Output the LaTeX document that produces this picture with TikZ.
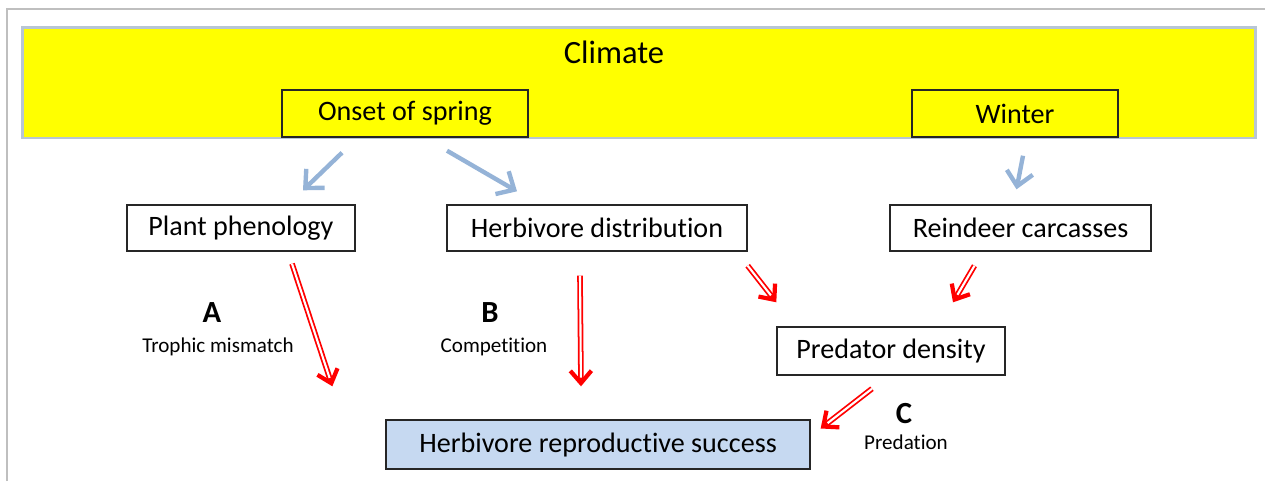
\documentclass[tikz,border=0pt]{standalone}
\usepackage{fontspec}
\setmainfont{Carlito}[Ligatures=NoCommon]
\usetikzlibrary{arrows.meta,calc}

\definecolor{climateyellow}{HTML}{FFFF00}
\definecolor{climateframe}{HTML}{B8C6D4}
\definecolor{arrowblue}{HTML}{95B3D7}
\definecolor{successblue}{HTML}{C6D9F1}
\definecolor{boxgray}{HTML}{262626}

\begin{document}
\begin{tikzpicture}[x=0.02cm, y=-0.02cm,
  box/.style={draw=boxgray, line width=0.8pt, inner sep=0pt, minimum height=0.92cm, font=\fontsize{16}{19}\selectfont},
  bluearr/.style={arrowblue, line width=2.5pt, -{Straight Barb[length=8pt,width=15pt]}},
  redarr/.style={red, line width=3.2pt, -{Straight Barb[length=7pt,width=12pt,line width=2.4pt]},
    postaction={draw=white, line width=1.2pt, -, shorten >=5pt}},
  letter/.style={font=\fontsize{17.5}{20}\selectfont\bfseries},
  effect/.style={font=\fontsize{12}{14}\selectfont}]

\useasboundingbox (0,0) rectangle (1265,481);
\draw[gray!50, line width=0.6pt] (7,481) -- (7,9) -- (1265,9);

%climate band
\node[draw=climateframe, fill=climateyellow, line width=1.7pt, minimum width=24.68cm, minimum height=2.22cm] (climate) at (639,82.5) {};
\node[font=\fontsize{18.5}{22}\selectfont] (climatetxt) at (614,52) {Climate};
\node[box, fill=climateyellow, minimum width=4.92cm, minimum height=0.94cm] (onset) at (405,113.5) {Onset of spring};
\node[box, fill=climateyellow, minimum width=4.12cm, minimum height=0.94cm] (winter) at (1015,113.5) {Winter};

%second row
\node[box, minimum width=4.56cm] (plant) at (241,228) {Plant phenology};
\node[box, minimum width=6.0cm] (herbdist) at (597,228) {Herbivore distribution};
\node[box, minimum width=5.22cm] (reindeer) at (1020.5,228) {Reindeer carcasses};

\node[box, minimum width=4.56cm, minimum height=0.96cm] (pred) at (891,351) {Predator density};
\node[box, fill=successblue, minimum width=8.48cm, minimum height=0.98cm] (success) at (598,444.5) {Herbivore reproductive success};

%climate effects
\draw[bluearr] ($(onset.south)+(-63,15)$) -- ($(plant.north)+(62,-14)$);
\draw[bluearr] ($(onset.south)+(42,13)$) -- ($(herbdist.north)+(-80,-13)$);
\draw[bluearr] ($(winter.south)+(8,18)$) -- ($(reindeer.north)+(-4,-15)$);

%effects on reproduction
\draw[redarr] ($(plant.south)+(51,12)$) -- ($(success.north west)+(-53,-33)$);
\draw[redarr] ($(herbdist.south)+(-17,24)$) -- ($(success.north)+(-17,-33)$);
\draw[redarr] ($(herbdist.south east)+(0,14)$) -- ($(pred.north west)+(0,-24)$);
\draw[redarr] ($(reindeer.south)+(-46,14)$) -- ($(pred.north)+(62,-24)$);
\draw[redarr] ($(pred.south)+(-19,13)$) -- ($(success.east)+(10,-16)$);

\node[letter] (labA) at (212,313) {A};
\node[effect] (mismatch) at (218,347) {Trophic mismatch};
\node[letter] (labB) at (490,313) {B};
\node[effect] (competition) at (494,347) {Competition};
\node[letter] (labC) at (904,414) {C};
\node[effect] (predation) at (906,442) {Predation};

\end{tikzpicture}
\end{document}
